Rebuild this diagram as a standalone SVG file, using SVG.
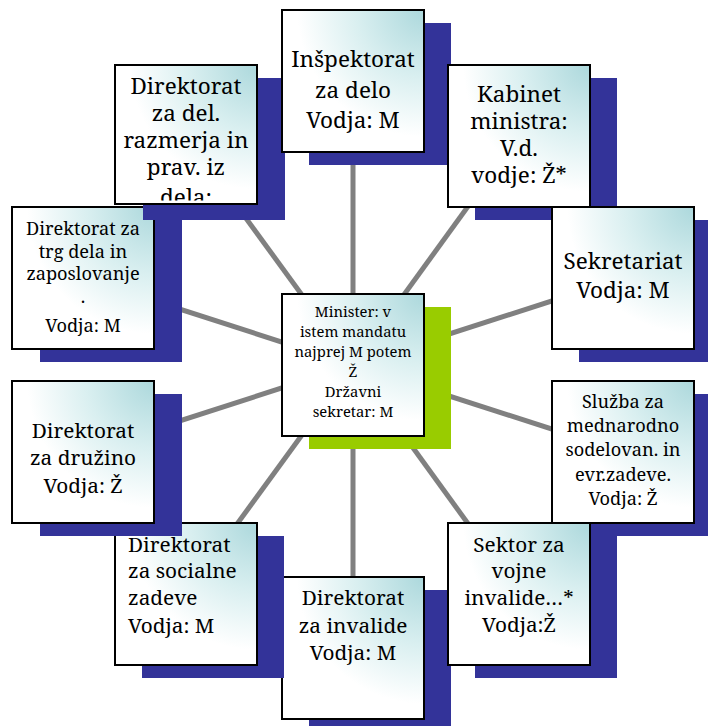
<svg xmlns="http://www.w3.org/2000/svg" width="708" height="726" viewBox="0 0 708 726">
  <defs>
    <radialGradient id="boxFill" cx="1" cy="0" r="1.05" fx="1" fy="0">
      <stop offset="0" stop-color="#acd8dc"/>
      <stop offset="0.45" stop-color="#d9eff0"/>
      <stop offset="0.85" stop-color="#ffffff"/>
    </radialGradient>
    <clipPath id="clipDelRaz">
      <rect x="116" y="66" width="140" height="134.5"/>
    </clipPath>
    <style>
      .shadow { fill: #333399; }
      .shadow-green { fill: #99cc00; }
      .box { fill: url(#boxFill); stroke: #000000; stroke-width: 2; }
      .link { stroke: #808080; stroke-width: 5; fill: none; }
      .lbl { font-family: 'Noto Serif', 'Liberation Serif', serif; fill: #000000; text-anchor: middle; }
      .t26 { font-size: 22.5px; }
      .t24 { font-size: 20.8px; }
      .t21 { font-size: 18.2px; }
      .t17 { font-size: 14.8px; }
      .left { text-anchor: start; }
    </style>
  </defs>

  <rect width="708" height="726" fill="#ffffff"/>

  <!-- spokes from the minister to every unit -->
  <g id="connectors">
    <line class="link" x1="353" y1="365" x2="353" y2="81"/>
    <line class="link" x1="353" y1="365" x2="519" y2="136"/>
    <line class="link" x1="353" y1="365" x2="623" y2="278"/>
    <line class="link" x1="353" y1="365" x2="623" y2="452"/>
    <line class="link" x1="353" y1="365" x2="519" y2="594"/>
    <line class="link" x1="353" y1="365" x2="353" y2="648"/>
    <line class="link" x1="353" y1="365" x2="186" y2="594"/>
    <line class="link" x1="353" y1="365" x2="83" y2="452"/>
    <line class="link" x1="353" y1="365" x2="83" y2="278"/>
    <line class="link" x1="353" y1="365" x2="186" y2="136"/>
  </g>

  <g id="invalide">
    <rect class="shadow" x="309" y="590" width="142" height="142"/>
    <rect class="box" x="282" y="577" width="142" height="142"/>
    <g class="lbl t24">
      <text x="353" y="605">Direktorat</text>
      <text x="353" y="633">za invalide</text>
      <text x="353" y="660">Vodja: M</text>
    </g>
  </g>

  <g id="socialne">
    <rect class="shadow" x="142" y="536" width="142" height="142"/>
    <rect class="box" x="115" y="523" width="142" height="142"/>
    <g class="lbl t24 left">
      <text x="128" y="552">Direktorat</text>
      <text x="128" y="578">za socialne</text>
      <text x="128" y="605">zadeve</text>
      <text x="128" y="633">Vodja: M</text>
    </g>
  </g>

  <g id="druzina">
    <rect class="shadow" x="40" y="394" width="142" height="142"/>
    <rect class="box" x="12" y="381" width="142" height="142"/>
    <g class="lbl t24">
      <text x="83" y="438">Direktorat</text>
      <text x="83" y="465">za družino</text>
      <text x="83" y="493">Vodja: Ž</text>
    </g>
  </g>

  <g id="trg-dela">
    <rect class="shadow" x="40" y="220" width="142" height="142"/>
    <rect class="box" x="12" y="207" width="142" height="142"/>
    <g class="lbl t21">
      <text x="83" y="235">Direktorat za</text>
      <text x="83" y="258">trg dela in</text>
      <text x="83" y="280">zaposlovanje</text>
      <text x="83" y="303">.</text>
      <text x="83" y="332">Vodja: M</text>
    </g>
  </g>

  <g id="delovna-razmerja">
    <rect class="shadow" x="143" y="78" width="142" height="142"/>
    <rect class="box" x="115" y="65" width="142" height="139"/>
    <g class="lbl t26" clip-path="url(#clipDelRaz)">
      <text x="186" y="94">Direktorat</text>
      <text x="186" y="121">za del.</text>
      <text x="186" y="148">razmerja in</text>
      <text x="186" y="175">prav. iz</text>
      <text x="186" y="205">dela:</text>
    </g>
  </g>

  <g id="inspektorat">
    <rect class="shadow" x="309" y="23" width="142" height="142"/>
    <rect class="box" x="282" y="10" width="142" height="142"/>
    <g class="lbl t26">
      <text x="353" y="67">Inšpektorat</text>
      <text x="353" y="98">za delo</text>
      <text x="353" y="128">Vodja: M</text>
    </g>
  </g>

  <g id="kabinet">
    <rect class="shadow" x="475" y="78" width="142" height="142"/>
    <rect class="box" x="448" y="65" width="142" height="142"/>
    <g class="lbl t26">
      <text x="519" y="102">Kabinet</text>
      <text x="519" y="129">ministra:</text>
      <text x="519" y="156">V.d.</text>
      <text x="519" y="183">vodje: Ž*</text>
    </g>
  </g>

  <g id="sekretariat">
    <rect class="shadow" x="579" y="220" width="142" height="142"/>
    <rect class="box" x="552" y="207" width="142" height="142"/>
    <g class="lbl t26">
      <text x="623" y="269">Sekretariat</text>
      <text x="623" y="298">Vodja: M</text>
    </g>
  </g>

  <g id="mednarodno">
    <rect class="shadow" x="579" y="394" width="142" height="142"/>
    <rect class="box" x="552" y="381" width="142" height="142"/>
    <g class="lbl t21">
      <text x="623" y="408">Služba za</text>
      <text x="623" y="432">mednarodno</text>
      <text x="623" y="456">sodelovan. in</text>
      <text x="623" y="481">evr.zadeve.</text>
      <text x="623" y="505">Vodja: Ž</text>
    </g>
  </g>

  <g id="vojni-invalidi">
    <rect class="shadow" x="475" y="536" width="142" height="142"/>
    <rect class="box" x="448" y="523" width="142" height="142"/>
    <g class="lbl t24">
      <text x="519" y="552">Sektor za</text>
      <text x="519" y="578">vojne</text>
      <text x="519" y="605">invalide…*</text>
      <text x="519" y="632">Vodja:Ž</text>
    </g>
  </g>

  <g id="minister">
    <rect class="shadow-green" x="309" y="307" width="142" height="142"/>
    <rect class="box" x="282" y="294" width="142" height="142"/>
    <g class="lbl t17">
      <text x="353" y="317">Minister: v</text>
      <text x="353" y="337">istem mandatu</text>
      <text x="353" y="357">najprej M potem</text>
      <text x="353" y="377">Ž</text>
      <text x="353" y="397">Državni</text>
      <text x="353" y="417">sekretar: M</text>
    </g>
  </g>
</svg>
